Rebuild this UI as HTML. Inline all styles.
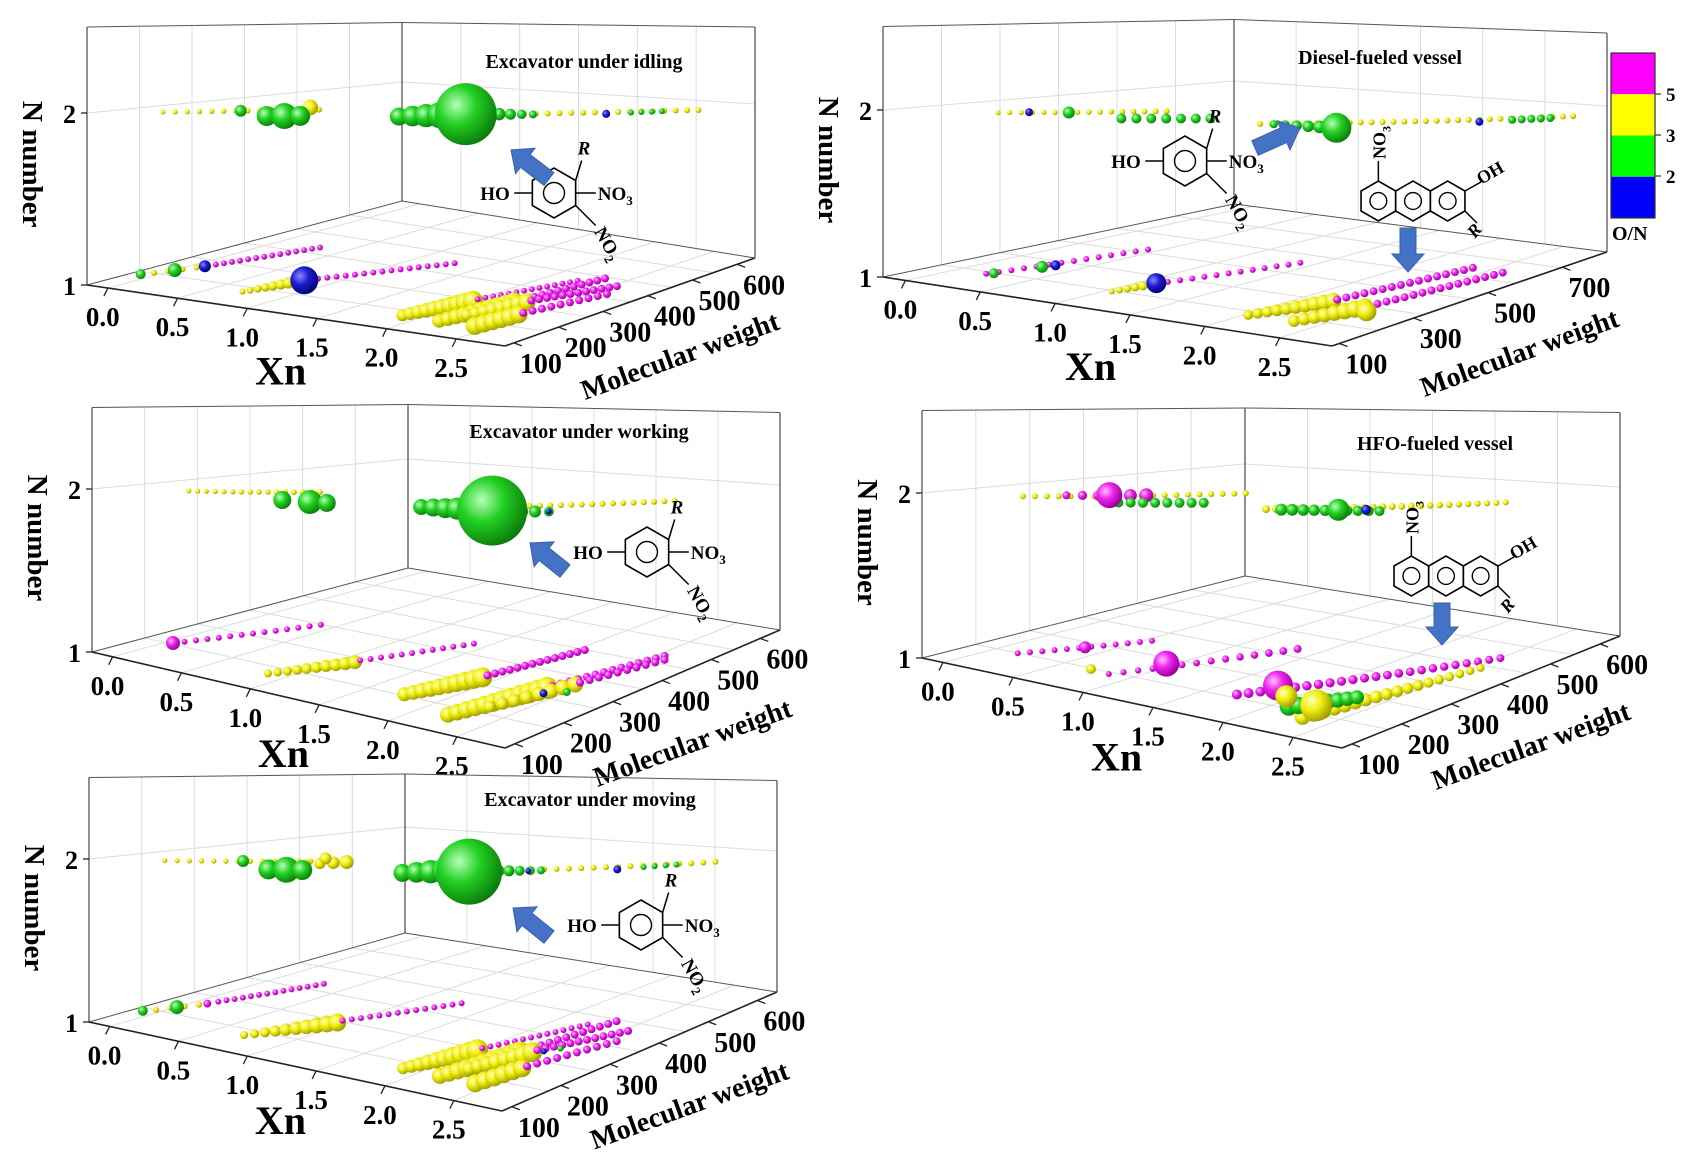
<!DOCTYPE html>
<html><head><meta charset="utf-8">
<style>
html,body{margin:0;padding:0;background:#fff;}
svg{display:block;}
text{font-family:"Liberation Serif",serif;font-weight:bold;fill:#000;}
</style></head>
<body>
<svg id="fig" width="1696" height="1154" viewBox="0 0 1696 1154" xmlns="http://www.w3.org/2000/svg">
<defs>
<radialGradient id="g0" cx="35%" cy="35%" r="70%"><stop offset="0" stop-color="#8a8aff"/><stop offset="0.45" stop-color="#1c1cd0"/><stop offset="1" stop-color="#000070"/></radialGradient>
<radialGradient id="g1" cx="35%" cy="35%" r="70%"><stop offset="0" stop-color="#b8ffb8"/><stop offset="0.45" stop-color="#22d022"/><stop offset="1" stop-color="#0a7a0a"/></radialGradient>
<radialGradient id="g2" cx="35%" cy="35%" r="70%"><stop offset="0" stop-color="#ffffc0"/><stop offset="0.45" stop-color="#f0ee10"/><stop offset="1" stop-color="#9a9800"/></radialGradient>
<radialGradient id="g3" cx="35%" cy="35%" r="70%"><stop offset="0" stop-color="#ffc0ff"/><stop offset="0.45" stop-color="#ee22ee"/><stop offset="1" stop-color="#900090"/></radialGradient>
</defs>
</svg>
<script>
// ---- data: runs = [xn0, mw0, xn1, mw1, Nnumber, count, r0, r1, colorIdx(0 blue,1 green,2 yellow,3 magenta)]
// ---- dots = [xn, mw, Nnumber, radius, colorIdx]
const xnTicks = [0.0, 0.5, 1.0, 1.5, 2.0, 2.5];
const xnTickLabels = ["0.0","0.5","1.0","1.5","2.0","2.5"];
const mwTicksA = [100, 200, 300, 400, 500, 600];
const mwTicksB = [100, 300, 500, 700];
const nTicks = [1, 2];
const cbValues = [2, 3, 5];

const p1Runs = [
 [0.15,142,0.77,277,2,14,2.5,3,2],
 [1.46,261,2.77,535,2,26,3,3,2],
 [1.46,255,1.60,300,2,4,9,13,1],
 [1.80,345,2.05,372,2,5,7,4,1],
 [2.50,460,2.62,495,2,4,3,3,1],
 [-0.05,175,0.06,225,1,4,3,3,2],
 [0.10,250,0.31,390,1,14,3,3,3],
 [0.70,150,0.79,228,1,8,3,6,2],
 [0.85,255,1.28,412,1,16,3,3,3],
 [1.87,150,2.00,260,1,10,6,10,2],
 [2.00,270,2.23,418,1,14,3,3,3],
 [2.14,150,2.24,280,1,10,7,10,2],
 [2.24,290,2.34,447,1,12,4,4,3],
 [2.19,194,2.30,290,1,8,6,9,2],
 [2.30,300,2.53,421,1,12,4,4,3],
 [2.40,150,2.45,230,1,6,9,9,2],
 [2.45,240,2.60,380,1,10,4,4,3]
];
const p1Dots = [
 [0.45,210,2,6,1],[0.63,295,2,8,2],[0.80,170,2,10,1],[0.88,183,2,13,1],[0.95,195,2,10,1],
 [1.69,329,2,31,1],[2.42,428,2,4,0],
 [-0.09,161,1,5,1],[0.00,200,1,7,1],[0.08,235,1,6,0],[0.81,239,1,14,0]
];

const p2Runs = [
 [0.31,181,0.87,378,2,16,2.5,3,2],
 [0.95,249,1.30,340,2,7,5,5,1],
 [1.68,331,2.97,687,2,30,3,3,2],
 [1.75,340,2.10,360,2,6,4,7,1],
 [2.75,600,2.90,650,2,5,4,4,1],
 [0.20,190,0.43,472,1,14,3,3,3],
 [1.04,197,1.09,270,1,6,3,5,2],
 [1.12,300,1.40,520,1,12,3,3,3],
 [2.02,181,2.20,330,1,10,5,8,2],
 [2.20,340,2.37,628,1,16,4,4,3],
 [2.32,186,2.45,320,1,8,6,9,2],
 [2.45,330,2.61,624,1,16,4,4,3]
];
const p2Dots = [
 [0.55,260,2,6,1],[0.40,220,2,4,0],[2.13,363,2,15,1],[2.64,552,2,4,0],
 [0.22,200,1,5,1],[0.30,280,1,6,1],[0.33,300,1,5,0],[1.09,283,1,10,0],[2.52,299,1,10,2]
];

const p3Runs = [
 [0.21,165,0.72,279,2,16,2.5,3,2],
 [1.62,269,2.64,480,2,24,3,3,2],
 [1.55,262,1.75,280,2,4,8,11,1],
 [2.05,300,2.25,330,2,4,8,5,1],
 [0.04,178,0.40,358,1,14,3,3,3],
 [0.87,146,1.10,250,1,10,4,7,2],
 [1.10,260,1.40,400,1,12,3,3,3],
 [1.75,178,1.90,290,1,10,7,10,2],
 [1.90,300,2.05,452,1,14,4,4,3],
 [2.20,144,2.35,300,1,12,8,11,2],
 [2.35,310,2.55,483,1,14,4,4,3],
 [2.30,200,2.45,330,1,8,6,8,2],
 [2.45,340,2.60,470,1,10,4,4,3]
];
const p3Dots = [
 [0.80,190,2,9,1],[0.96,201,2,12,1],[1.05,210,2,9,1],
 [1.96,294,2,35,1],[2.25,330,2,3,0],
 [0.04,178,1,7,3],[2.40,280,1,4,0],[2.50,300,1,4,1]
];

const p4Runs = [
 [0.28,152,1.05,366,2,20,3,3,2],
 [0.40,200,0.70,270,2,6,4,7,3],
 [0.82,190,1.17,259,2,8,5,5,1],
 [1.62,262,2.62,470,2,26,4,3,2],
 [1.70,270,2.20,330,2,10,6,5,1],
 [0.16,172,0.54,319,1,12,3,3,3],
 [0.85,165,1.34,391,1,14,3,4,3],
 [1.70,186,2.50,490,1,24,5,4,3],
 [2.29,156,2.53,443,1,18,8,4,2],
 [2.10,180,2.30,260,1,8,9,7,1]
];
const p4Dots = [
 [0.55,240,2,13,3],[1.97,310,2,11,1],[2.10,330,2,5,0],
 [0.35,245,1,6,3],[0.95,245,1,13,3],[0.70,170,1,5,2],
 [1.77,246,1,15,3],[2.21,204,1,16,2],[1.95,215,1,11,2]
];

const p5Runs = [
 [0.15,142,0.77,277,2,14,2.5,3,2],
 [0.80,240,0.90,290,2,4,5,7,2],
 [1.46,261,2.77,535,2,26,3,3,2],
 [1.46,255,1.60,300,2,4,9,13,1],
 [1.85,340,2.05,372,2,5,6,4,1],
 [2.50,460,2.62,495,2,4,3,3,1],
 [-0.05,175,0.06,225,1,4,3,3,2],
 [0.10,250,0.31,390,1,14,3,3,3],
 [0.70,150,0.95,260,1,10,4,9,2],
 [0.95,270,1.28,412,1,14,3,3,3],
 [1.87,150,2.00,260,1,10,6,11,2],
 [2.00,270,2.23,418,1,14,3,3,3],
 [2.14,150,2.24,280,1,10,8,11,2],
 [2.24,290,2.34,447,1,12,4,4,3],
 [2.19,194,2.30,290,1,8,7,10,2],
 [2.30,300,2.53,421,1,12,4,4,3],
 [2.40,150,2.45,230,1,6,9,9,2],
 [2.45,240,2.60,380,1,10,4,4,3]
];
const p5Dots = [
 [0.45,210,2,6,1],[0.80,170,2,10,1],[0.88,183,2,13,1],[0.95,195,2,10,1],[0.70,300,2,6,2],
 [1.73,314,2,33,1],[2.00,360,2,3,0],[2.42,428,2,4,0],
 [-0.09,161,1,5,1],[0.00,200,1,7,1],[0.08,235,1,4,3],[2.35,300,1,3,0],[2.40,320,1,3,1]
];

// ---- layout (geometry, not data); Hc = vertical px per N unit at corners [FL, BC, RB]
const panels = [
 {id:"idling", title:"Excavator under idling", tx:584, ty:68, FL:[87,285],FR:[505,346],RB:[755,258],BC:[402,201],Hc:[172,119,154],mw:[80,640],mwT:mwTicksA,runs:p1Runs,dots:p1Dots, chem:"benz", cx:554, cy:193, arrow:[549,179,511,150]},
 {id:"diesel", title:"Diesel-fueled vessel", tx:1380, ty:64, FL:[883,277],FR:[1332,346],RB:[1607,252],BC:[1234,204],Hc:[167,123,146],mw:[80,820],mwT:mwTicksB,runs:p2Runs,dots:p2Dots, chem:"benz2", cx:1185, cy:161, arrow:[1255,148,1300,128]},
 {id:"working", title:"Excavator under working", tx:579, ty:438, FL:[92,652],FR:[505,748],RB:[780,630],BC:[408,568],Hc:[163,109,145],mw:[80,640],mwT:mwTicksA,runs:p3Runs,dots:p3Dots, chem:"benz", cx:647, cy:552, arrow:[565,571,530,543]},
 {id:"hfo", title:"HFO-fueled vessel", tx:1435, ty:450, FL:[922,658],FR:[1342,748],RB:[1620,636],BC:[1245,576],Hc:[165,112,149],mw:[80,640],mwT:mwTicksA,runs:p4Runs,dots:p4Dots, chem:"anth4", cx:1446, cy:576, arrow:[1442,603,1442,645]},
 {id:"moving", title:"Excavator under moving", tx:590, ty:806, FL:[89,1022],FR:[502,1111],RB:[777,992],BC:[405,933],Hc:[163,106,141],mw:[80,640],mwT:mwTicksA,runs:p5Runs,dots:p5Dots, chem:"benz", cx:641, cy:925, arrow:[549,937,513,908]}
];
const XN0=-0.15, XN1=2.85, NTOP=2.5;
const NS="http://www.w3.org/2000/svg";
const svg=document.getElementById("fig");
function mk(tag,attrs,parent){const e=document.createElementNS(NS,tag);for(const k in attrs)e.setAttribute(k,attrs[k]);(parent||svg).appendChild(e);return e;}
function proj(P,xn,mw,n){
 const u=(xn-XN0)/(XN1-XN0), v=(mw-P.mw[0])/(P.mw[1]-P.mw[0]);
 const w1=(1-u)*(1-v), w2=u*(1-v), w3=u*v, w4=(1-u)*v;
 const x=P.FL[0]*w1+P.FR[0]*w2+P.RB[0]*w3+P.BC[0]*w4;
 const y=P.FL[1]*w1+P.FR[1]*w2+P.RB[1]*w3+P.BC[1]*w4;
 const hFL=P.Hc[0], hBC=P.Hc[1], hRB=P.Hc[2], hFR=hFL+hRB-hBC;
 const H=hFL*w1+hFR*w2+hRB*w3+hBC*w4;
 return [x, y-(n-1)*H];
}
function line(g,a,b,st,w,name){const l=mk("line",{x1:a[0],y1:a[1],x2:b[0],y2:b[1],stroke:st,"stroke-width":w},g);return l;}
function txt(g,x,y,s,size,name,extra){const t=mk("text",Object.assign({x:x,y:y,"font-size":size},extra||{}),g);t.textContent=s;return t;}
function bubble(g,P,xn,mw,n,r,c){
 const p=proj(P,xn,mw,n);
 const b=mk("circle",{cx:p[0].toFixed(1),cy:p[1].toFixed(1),r:r,fill:"url(#g"+c+")"},g);
 
 
}
function benzene(g,cx,cy,s){
 let pts=[];for(let i=0;i<6;i++){const a=Math.PI/6+i*Math.PI/3;pts.push([cx+s*Math.cos(a),cy+s*Math.sin(a)]);}
 const h=mk("polygon",{points:pts.map(p=>p.join(",")).join(" "),fill:"none",stroke:"#000","stroke-width":1.6},g);
 
 mk("circle",{cx:cx,cy:cy,r:s*0.42,fill:"none",stroke:"#000","stroke-width":1.4},g);
 return pts;
}
function arrowShape(g,x1,y1,x2,y2){
 const dx=x2-x1,dy=y2-y1,L=Math.hypot(dx,dy),ux=dx/L,uy=dy/L,px=-uy,py=ux;
 const w=8,hw=16,hl=18,bx=x2-ux*hl,by=y2-uy*hl;
 const pts=[[x1+px*w,y1+py*w],[bx+px*w,by+py*w],[bx+px*hw,by+py*hw],[x2,y2],[bx-px*hw,by-py*hw],[bx-px*w,by-py*w],[x1-px*w,y1-py*w]];
 const a=mk("polygon",{points:pts.map(p=>p[0].toFixed(1)+","+p[1].toFixed(1)).join(" "),fill:"#4472c4",stroke:"#3a62a8","stroke-width":1},g);
 
}
function chemBenz(g,cx,cy){
 const s=25,p=benzene(g,cx,cy,s);
 line(g,[cx-s*0.87,cy],[cx-s*0.87-18,cy],"#000",1.5,"bond");
 txt(g,cx-s*0.87-52,cy+7,"HO",19,"ho-label");
 line(g,p[5],[p[5][0]+6,p[5][1]-20],"#000",1.5,"bond");
 txt(g,p[5][0]+2,p[5][1]-26,"R",19,"r-label",{"font-style":"italic"});
 line(g,[cx+s*0.87,cy],[cx+s*0.87+20,cy],"#000",1.5,"bond");
 const t=txt(g,cx+s*0.87+22,cy+7,"NO",19,"no3-label");
 const sb=mk("tspan",{"font-size":13,dy:5},t);sb.textContent="3";
 line(g,p[0],[p[0][0]+20,p[0][1]+20],"#000",1.5,"bond");
 const t2=txt(g,p[0][0]+18,p[0][1]+26,"NO",19,"no2-label",{transform:"rotate(60 "+(p[0][0]+18)+" "+(p[0][1]+26)+")"});
 const sb2=mk("tspan",{"font-size":13,dy:5},t2);sb2.textContent="2";
}
function chemAnth(g,cx,cy){
 const s=20,w=s*1.732;
 const c=[[cx-w,cy],[cx,cy],[cx+w,cy]];
 const rings=c.map(q=>benzene(g,q[0],q[1],s));
 const L=rings[0],R=rings[2];
 line(g,L[4],[L[4][0],L[4][1]-20],"#000",1.5,"bond");
 const tx=L[4][0]+7,ty=L[4][1]-22;
 const t=txt(g,tx,ty,"NO",18,"no3-label",{transform:"rotate(-90 "+tx+" "+ty+")"});
 const sb=mk("tspan",{"font-size":12,dy:5},t);sb.textContent="3";
 line(g,R[5],[R[5][0]+16,R[5][1]-9],"#000",1.5,"bond");
 txt(g,R[5][0]+16,R[5][1]-6,"OH",18,"oh-label",{transform:"rotate(-30 "+(R[5][0]+16)+" "+(R[5][1]-6)+")"});
 line(g,R[0],[R[0][0]+12,R[0][1]+12],"#000",1.5,"bond");
 txt(g,R[0][0]+10,R[0][1]+28,"R",18,"r-label",{"font-style":"italic",transform:"rotate(-50 "+(R[0][0]+10)+" "+(R[0][1]+28)+")"});
}

panels.forEach(P=>{
 const g=mk("g",{});
 
 
 const xmin=XN0, xmax=XN1, m0=P.mw[0], m1=P.mw[1];
 const gc="#dcdcdc";
 for(let k=1;k<6;k++){const xv=xmin+(xmax-xmin)*k/6;line(g,proj(P,xv,m1,1),proj(P,xv,m1,NTOP),gc,1,"grid-line");}
 for(let k=1;k<6;k++){const mv=m0+(m1-m0)*k/6;line(g,proj(P,xmin,mv,1),proj(P,xmin,mv,NTOP),gc,1,"grid-line");
   line(g,proj(P,xmin,mv,1),proj(P,xmax,mv,1),gc,1,"grid-line");}
 xnTicks.forEach(t=>line(g,proj(P,t,m0,1),proj(P,t,m1,1),gc,1,"grid-line"));
 line(g,proj(P,xmin,m0,2),proj(P,xmin,m1,2),gc,1,"grid-line");
 line(g,proj(P,xmin,m1,2),proj(P,xmax,m1,2),gc,1,"grid-line");
 const ec="#555";
 line(g,proj(P,xmin,m0,1),proj(P,xmin,m0,NTOP),ec,1.3,"n-axis-line");
 line(g,proj(P,xmin,m1,1),proj(P,xmin,m1,NTOP),ec,1.3,"wall-edge");
 line(g,proj(P,xmax,m1,1),proj(P,xmax,m1,NTOP),ec,1.3,"wall-edge");
 line(g,proj(P,xmin,m0,NTOP),proj(P,xmin,m1,NTOP),ec,1,"wall-edge");
 line(g,proj(P,xmin,m1,NTOP),proj(P,xmax,m1,NTOP),ec,1,"wall-edge");
 line(g,proj(P,xmin,m0,1),proj(P,xmin,m1,1),ec,1,"wall-edge");
 line(g,proj(P,xmin,m1,1),proj(P,xmax,m1,1),ec,1,"wall-edge");
 line(g,proj(P,xmin,m0,1),proj(P,xmax,m0,1),"#222",1.6,"xn-axis-line");
 line(g,proj(P,xmax,m0,1),proj(P,xmax,m1,1),"#222",1.6,"mw-axis-line");
 nTicks.forEach(n=>{const p=proj(P,xmin,m0,n);line(g,p,[p[0]-6,p[1]],"#222",1.3,"n-tick");txt(g,p[0]-24,p[1]+10,String(n),26,"n-tick-label");});
 xnTicks.forEach((t,i)=>{const p=proj(P,t,m0,1);line(g,p,[p[0]-4,p[1]+8],"#222",1.3,"xn-tick");txt(g,p[0]-22,p[1]+38,xnTickLabels[i],27,"xn-tick-label");});
 P.mwT.forEach(m=>{const p=proj(P,xmax,m,1);line(g,p,[p[0]+8,p[1]+3],"#222",1.3,"mw-tick");txt(g,p[0]+6,p[1]+30,String(m),28,"mw-tick-label");});
 const a=proj(P,1.2,m0,1);txt(g,a[0]-20,a[1]+72,"Xn",40,"xn-axis-title");
 const b=proj(P,xmax,(m0+m1)/2,1);
 txt(g,b[0]-45,b[1]+98,"Molecular  weight",28,"mw-axis-title",{transform:"rotate(-20 "+(b[0]-45)+" "+(b[1]+98)+")"});
 const c=proj(P,xmin,m0,1.75);
 txt(g,c[0]-64,c[1]-55,"N number",29,"n-axis-title",{transform:"rotate(90 "+(c[0]-64)+" "+(c[1]-55)+")"});
 txt(g,P.tx,P.ty,P.title,20,"panel-title",{"text-anchor":"middle"});
 P.runs.forEach(R=>{
  for(let i=0;i<R[5];i++){const f=R[5]>1?i/(R[5]-1):0;
   bubble(g,P,R[0]+(R[2]-R[0])*f,R[1]+(R[3]-R[1])*f,R[4],R[6]+(R[7]-R[6])*f,R[8]);}
 });
 P.dots.forEach(D=>bubble(g,P,D[0],D[1],D[2],D[3],D[4]));
 if(P.chem==="benz"){chemBenz(g,P.cx,P.cy);arrowShape(g,...P.arrow);}
 if(P.chem==="benz2"){chemBenz(g,P.cx,P.cy);arrowShape(g,...P.arrow);chemAnth(g,1413,201);arrowShape(g,1408,228,1408,272);}
 if(P.chem==="anth4"){chemAnth(g,P.cx,P.cy);arrowShape(g,...P.arrow);}
});

const cb=mk("g",{});


const cbColors=["#ff00ff","#ffff00","#00ff00","#0000ff"];
cbColors.forEach((col,i)=>{const r=mk("rect",{x:1611,y:53+i*41.25,width:44,height:41.25,fill:col},cb);});
mk("rect",{x:1611,y:53,width:44,height:165,fill:"none",stroke:"#333","stroke-width":1.2},cb);
const cbY={5:94,3:135,2:176};
cbValues.forEach(v=>{line(cb,[1655,cbY[v]],[1661,cbY[v]],"#333",1.2,"colorbar-tick");txt(cb,1666,cbY[v]+7,String(v),19,"colorbar-tick-label");});
txt(cb,1612,240,"O/N",20,"colorbar-title");
</script>
</body></html>
